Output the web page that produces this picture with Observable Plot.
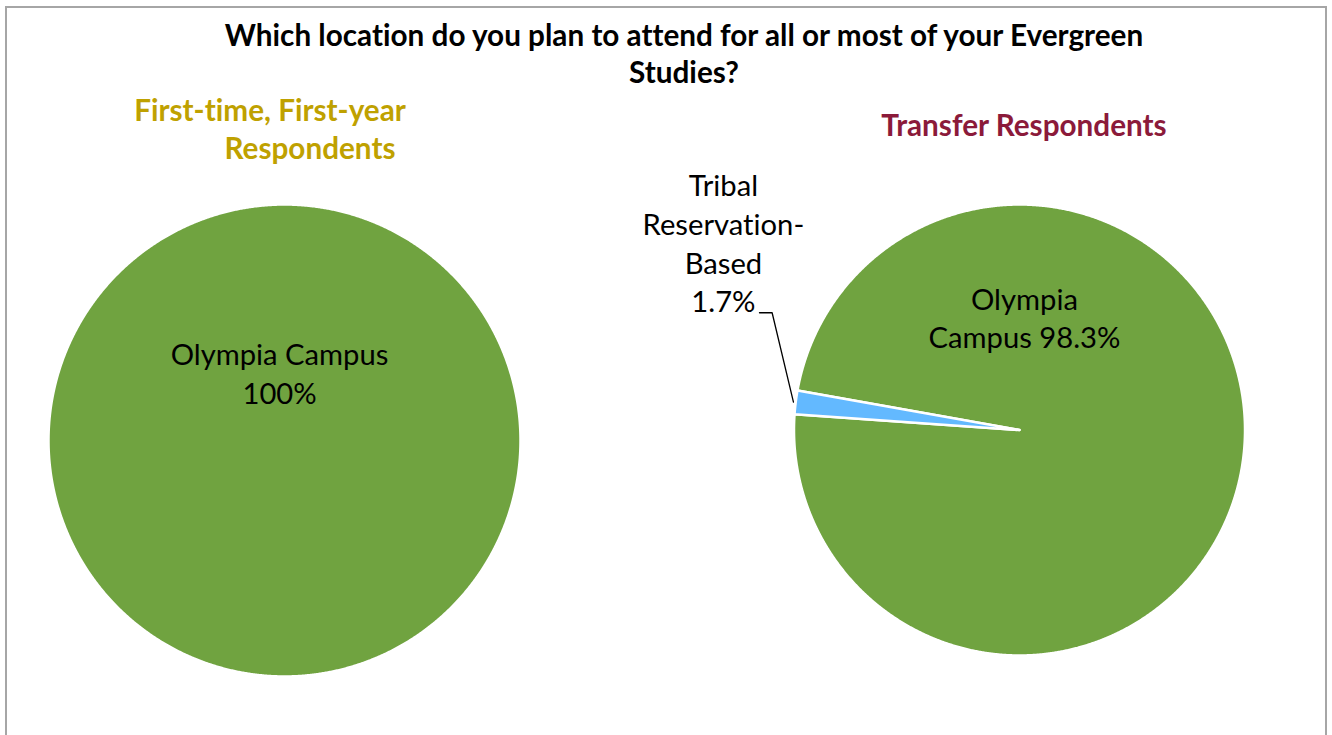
<!DOCTYPE html>
<html><head><meta charset="utf-8">
<script src="https://cdn.jsdelivr.net/npm/d3@7"></script>
<script src="https://cdn.jsdelivr.net/npm/@observablehq/plot@0.6"></script>
<style>
body{margin:0;background:#fff;}
#chart{position:relative;width:1332px;height:735px;overflow:hidden;font-family:Lato,"Open Sans",sans-serif;font-variant-ligatures:none;}
#chart svg text{font-variant-ligatures:none;}
#frame{position:absolute;left:5px;top:6px;width:1322px;height:780px;border:2px solid #a6a6a6;box-sizing:border-box;}
.t{position:absolute;white-space:nowrap;transform:translate(-50%,-50%);line-height:1;}
#chart svg{position:absolute;left:0;top:0;}
</style></head><body><div id="chart"><div id="frame"></div></div>
<script>
// ---- data ----
const titleLines = ["Which location do you plan to attend for all or most of your Evergreen", "Studies?"];
const firstYearTitleLines = ["First-time, First-year", "Respondents"];
const transferTitle = "Transfer Respondents";
const firstYearLocations = ["Olympia Campus"];
const firstYearShares = [100];
const firstYearLabels = ["Olympia Campus\n100%"];
const transferLocations = ["Olympia Campus", "Tribal Reservation-Based"];
const transferShares = [98.3, 1.7];
const transferLabels = ["Olympia\nCampus 98.3%", "Tribal\nReservation-\nBased\n1.7%"];
const locationNames = ["Olympia Campus", "Tribal Reservation-Based"];
const locationColors = ["#70a340", "#63b9ff"];

// ---- layout ----
const W = 1332, H = 735;
const font = 'Lato, "Open Sans", sans-serif';
const chart = document.getElementById("chart");

function addText(txt, cx, cy, size, weight, color) {
  const d = document.createElement("div");
  d.className = "t";
  d.textContent = txt;
  d.style.left = cx + "px"; d.style.top = cy + "px";
  d.style.fontSize = size + "px"; d.style.fontWeight = weight; d.style.color = color;
  chart.appendChild(d);
}
addText(titleLines[0], 684, 35, 29.7, 700, "#000");
addText(titleLines[1], 684, 72, 29.7, 700, "#000");
addText(firstYearTitleLines[0], 270, 110, 29.7, 700, "#bfa100");
addText(firstYearTitleLines[1], 310, 148, 29.7, 700, "#bfa100");
addText(transferTitle, 1024, 125, 29.7, 700, "#8b1a3a");

function slicePoints(names, values, start) {
  const arcs = d3.pie().sort(null).value(d => d).startAngle(start).endAngle(start + 2 * Math.PI)(values);
  const pts = [];
  arcs.forEach((a, i) => {
    const span = a.endAngle - a.startAngle;
    const full = span >= 2 * Math.PI - 1e-9;
    if (!full) pts.push({k: names[i], x: 0, y: 0});
    const n = Math.max(2, Math.ceil(span / (Math.PI / 720)));
    for (let j = 0; j <= n; j++) {
      const t = a.startAngle + span * j / n;
      pts.push({k: names[i], x: Math.sin(t), y: Math.cos(t)});
    }
    if (!full) pts.push({k: names[i], x: 0, y: 0});
  });
  return {arcs, pts};
}

function piePlot({names, values, labels, start, cx, cy, r, labelPos, leader}) {
  const {arcs, pts} = slicePoints(names, values, start);
  const labelData = labels.map((t, i) => ({t, x: labelPos[i][0], y: labelPos[i][1]}));
  const marks = [
    Plot.line(pts, {x: "x", y: "y", z: "k", fill: "k", stroke: "white", strokeWidth: 2.5, strokeLinejoin: "round", curve: "linear"}),
    Plot.text(labelData, {x: "x", y: "y", text: "t", fontSize: 29.2, lineHeight: 1.325, fill: "black", fontFamily: font})
  ];
  if (leader) {
    const a = arcs[leader.index];
    const mid = (a.startAngle + a.endAngle) / 2;
    const lp = [
      {x: 1.01 * Math.sin(mid), y: 1.01 * Math.cos(mid)},
      {x: leader.elbow[0], y: leader.elbow[1]},
      {x: leader.end[0], y: leader.end[1]}
    ];
    marks.push(Plot.line(lp, {x: "x", y: "y", stroke: "black", strokeWidth: 1.3}));
  }
  return Plot.plot({
    width: W, height: H, margin: 0,
    style: {background: "transparent", overflow: "visible"},
    x: {domain: [-1, 1], range: [cx - r, cx + r], axis: null},
    y: {domain: [-1, 1], range: [cy + r, cy - r], axis: null},
    color: {domain: locationNames, range: locationColors},
    marks
  });
}

chart.appendChild(piePlot({
  names: firstYearLocations, values: firstYearShares, labels: firstYearLabels,
  start: 0, cx: 284, cy: 440, r: 236,
  labelPos: [[-0.021, 0.29]]
}));

chart.appendChild(piePlot({
  names: transferLocations, values: transferShares, labels: transferLabels,
  start: 280.1 * Math.PI / 180, cx: 1019, cy: 429.5, r: 225.5,
  labelPos: [[0.022, 0.503], [-1.313, 0.834]],
  leader: {index: 1, elbow: [-1.097, 0.52], end: [-1.153, 0.52]}
}));
</script></body></html>
